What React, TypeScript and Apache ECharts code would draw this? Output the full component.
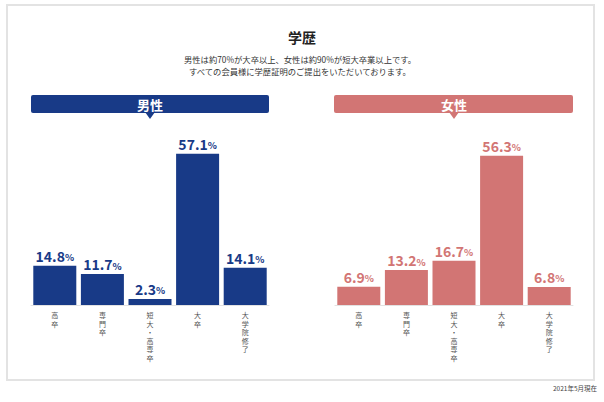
import React, { useEffect, useRef } from "react";
import * as echarts from "echarts";

const categories = ["高卒", "専門卒", "短大・高専卒", "大卒", "大学院修了"];
const maleValues = [14.8, 11.7, 2.3, 57.1, 14.1];
const femaleValues = [6.9, 13.2, 16.7, 56.3, 6.8];
const titleText = "学歴";
const subtitleLines = [
  "男性は約70%が大卒以上、女性は約90%が短大卒業以上です。",
  "すべての会員様に学歴証明のご提出をいただいております。",
];
const maleLabel = "男性";
const femaleLabel = "女性";
const footnote = "2021年5月現在";

const NAVY = "#183a87";
const PINK = "#d27574";
const FONT = "'Noto Sans CJK JP', 'Noto Sans', sans-serif";

export default function App() {
  const ref = useRef<HTMLDivElement>(null);
  useEffect(() => {
    document.body.style.margin = "0";
    const chart = echarts.init(ref.current!, null, { renderer: "svg" });
    const xAxisCommon = (gridIndex: number) => ({
      type: "category" as const,
      gridIndex,
      data: categories,
      axisTick: { show: false },
      axisLine: { show: true, lineStyle: { color: "#e2e2e2", width: 1 } },
      axisLabel: {
        interval: 0,
        margin: 6,
        color: "#555",
        fontSize: 7,
        lineHeight: 8.5,
        fontFamily: FONT,
        verticalAlign: "top" as const,
        formatter: (v: string) => v.split("").join("\n"),
      },
    });
    const yAxisCommon = (gridIndex: number) => ({
      type: "value" as const,
      gridIndex,
      min: 0,
      max: 60,
      show: false,
      splitLine: { show: false },
    });
    const labelFor = (color: string) => ({
      show: true,
      position: "top" as const,
      distance: 3,
      formatter: (p: any) => `{v|${Number(p.value).toFixed(1)}}{p|%}`,
      rich: {
        v: { fontSize: 14, fontWeight: "bold" as const, color, fontFamily: FONT },
        p: { fontSize: 9.5, fontWeight: "bold" as const, color, fontFamily: FONT, padding: [3, 0, 0, 0] },
      },
    });
    chart.setOption({
      animation: false,
      backgroundColor: "#ffffff",
      grid: [
        { left: 31, top: 146, width: 238, height: 159 },
        { left: 335, top: 146, width: 238, height: 159 },
      ],
      xAxis: [xAxisCommon(0), xAxisCommon(1)],
      yAxis: [yAxisCommon(0), yAxisCommon(1)],
      series: [
        {
          type: "bar",
          xAxisIndex: 0,
          yAxisIndex: 0,
          data: maleValues,
          barWidth: 43,
          itemStyle: { color: NAVY },
          label: labelFor(NAVY),
        },
        {
          type: "bar",
          xAxisIndex: 1,
          yAxisIndex: 1,
          data: femaleValues,
          barWidth: 43,
          itemStyle: { color: PINK },
          label: labelFor(PINK),
        },
      ],
      graphic: [
        {
          type: "rect",
          shape: { x: 7, y: 5, width: 587, height: 375 },
          style: { fill: "none", stroke: "#e3e3e3", lineWidth: 2 },
          silent: true,
          z: -1,
        },
        {
          type: "text",
          x: 302,
          y: 37,
          style: {
            text: titleText,
            fontSize: 14,
            fontWeight: "bold",
            fill: "#222",
            fontFamily: FONT,
            align: "center",
            verticalAlign: "middle",
          },
        },
        {
          type: "text",
          x: 300,
          y: 59,
          style: {
            text: subtitleLines[0],
            fontSize: 8.3,
            fill: "#333",
            fontFamily: FONT,
            align: "center",
            verticalAlign: "middle",
          },
        },
        {
          type: "text",
          x: 300,
          y: 71,
          style: {
            text: subtitleLines[1],
            fontSize: 8.3,
            fill: "#333",
            fontFamily: FONT,
            align: "center",
            verticalAlign: "middle",
          },
        },
        {
          type: "rect",
          shape: { x: 31, y: 95, width: 238, height: 18, r: 2 },
          style: { fill: NAVY },
        },
        {
          type: "polygon",
          shape: { points: [[145, 112], [155, 112], [150, 119]] },
          style: { fill: NAVY },
        },
        {
          type: "text",
          x: 150,
          y: 104,
          style: {
            text: maleLabel,
            fontSize: 13,
            fontWeight: "bold",
            fill: "#fff",
            fontFamily: FONT,
            align: "center",
            verticalAlign: "middle",
          },
        },
        {
          type: "rect",
          shape: { x: 334, y: 95, width: 239, height: 18, r: 2 },
          style: { fill: PINK },
        },
        {
          type: "polygon",
          shape: { points: [[449, 112], [459, 112], [454, 119]] },
          style: { fill: PINK },
        },
        {
          type: "text",
          x: 454,
          y: 104,
          style: {
            text: femaleLabel,
            fontSize: 13,
            fontWeight: "bold",
            fill: "#fff",
            fontFamily: FONT,
            align: "center",
            verticalAlign: "middle",
          },
        },
        {
          type: "text",
          x: 597,
          y: 388,
          style: {
            text: footnote,
            fontSize: 6.5,
            fill: "#444",
            fontFamily: FONT,
            align: "right",
            verticalAlign: "middle",
          },
        },
      ],
    });
    return () => chart.dispose();
  }, []);
  return (
    <div
      ref={ref}
      style={{ position: "fixed", left: 0, top: 0, width: 604, height: 402 }}
    />
  );
}
